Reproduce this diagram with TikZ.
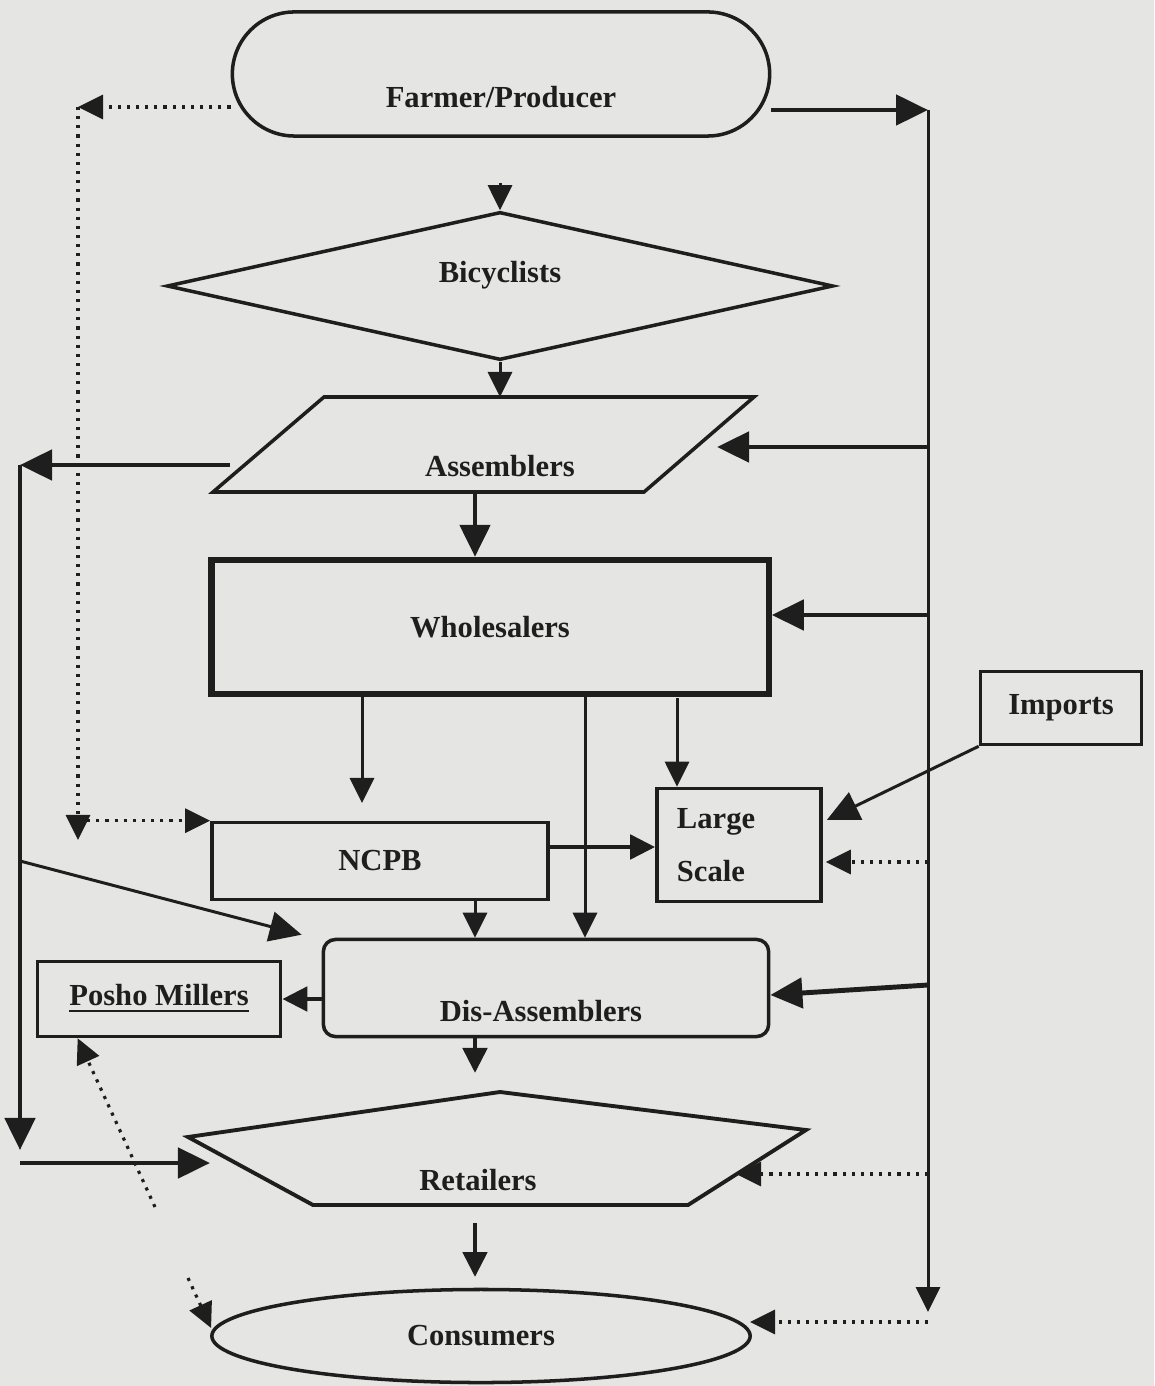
\documentclass[tikz,border=0pt]{standalone}
\usepackage{fontspec}
\setmainfont{Liberation Serif}
\usetikzlibrary{shapes.geometric,shapes.misc,arrows.meta,calc}
\definecolor{ink}{RGB}{30,30,30}
\definecolor{paper}{RGB}{229,229,227}
\newcommand\lblfont{\fontsize{8.7}{15.2}\selectfont\bfseries}

\begin{document}
\begin{tikzpicture}[x=0.01cm,y=-0.01cm,line join=miter,
  ln/.style={draw=ink,line width=0.85pt},
  thk/.style={draw=ink,line width=1.4pt},
  dots/.style={draw=ink,line width=0.9pt,dash pattern=on 0.9pt off 1.7pt},
  tip/.style={-{Triangle[length=0.25cm,width=0.24cm]}},
  bigtip/.style={-{Triangle[length=0.32cm,width=0.3cm]}},
  box/.style={draw=ink,line width=1pt,rectangle,inner sep=0pt,font=\lblfont,text=ink},
  lbl/.style={inner sep=0pt,font=\lblfont,text=ink}]
% page
  \fill[paper] (0,0) rectangle (1154,1386);

  \node[box,rounded rectangle,minimum width=5.37cm,minimum height=1.24cm] (farmer) at (501,74) {};
  \node[lbl] (farmertxt) at (501,97) {Farmer/Producer};
  \node[box,diamond,minimum width=6.66cm,minimum height=1.48cm] (bicyc) at (500,286) {};
  \node[lbl] (bicyctxt) at (500,275) {Bicyclists};
  \coordinate (as1) at (324,397);
  \coordinate (as2) at (754,397);
  \coordinate (as3) at (644,492);
  \coordinate (as4) at (213,492);
  \draw[ln,line width=1pt] (as1) -- (as2) -- (as3) -- (as4) -- cycle;
  \node[lbl] (asm) at (500,466) {Assemblers};
  \node[box,line width=1.8pt,minimum width=5.57cm,minimum height=1.34cm] (whole) at (490,627) {Wholesalers};
  \node[box,minimum width=3.36cm,minimum height=0.77cm] (ncpb) at (380,861) {NCPB};
  \node[box,minimum width=1.64cm,minimum height=1.13cm,text width=1.24cm,align=left] (large) at (739,845) {Large\\Scale};
  \node[box,minimum width=1.61cm,minimum height=0.73cm] (imports) at (1061,708) {Imports};
  \node[box,rounded corners=0.12cm,minimum width=4.45cm,minimum height=0.97cm] (dis) at (546,988) {};
  \node[lbl] (distxt) at (541,1011) {Dis-Assemblers};
  \node[box,minimum width=2.43cm,minimum height=0.75cm] (posho) at (159,999) {\underline{Posho Millers}};
  \coordinate (rt1) at (188,1137);
  \coordinate (rt2) at (500,1092);
  \coordinate (rt3) at (806,1130);
  \coordinate (rt4) at (688,1205);
  \coordinate (rt5) at (313,1205);
  \draw[ln,line width=1.1pt] (rt1) -- (rt2) -- (rt3) -- (rt4) -- (rt5) -- cycle;
  \node[lbl] (retail) at (478,1180) {Retailers};
  \node[box,ellipse,minimum width=5.38cm,minimum height=0.93cm] (cons) at (481,1336) {Consumers};

% main column
  \coordinate (fb) at (500,183);
  \coordinate (axis) at (475,0);
  \draw[ln,tip] (fb) -- (bicyc.north);
  \draw[ln,tip] (bicyc.south) -- (bicyc.south |- as1);
  \draw[thk,bigtip] (axis |- as4) -- (axis |- whole.north);
  \draw[ln,tip] (axis |- ncpb.south) -- (axis |- dis.north);
  \coordinate (dr) at (475,1073);
  \draw[thk,tip] (axis |- dis.south) -- (dr);
  \coordinate (rc1) at (475,1223);
  \coordinate (rc2) at (475,1277);
  \draw[thk,tip] (rc1) -- (rc2);
  \coordinate (w1) at (362,803);
  \coordinate (w2) at (585,0);
  \coordinate (w3) at (677,698);
  \draw[ln,tip] (whole.south -| w1) -- (w1);
  \draw[ln,tip] (whole.south -| w2) -- (dis.north -| w2);
  \draw[ln,tip] (w3) -- (large.north -| w3);
  \coordinate (n1) at ($(ncpb.east)+(0,-14)$);
  \draw[thk,tip] (n1) -- (large.west |- n1);
  \draw[thk,tip] (dis.west |- posho.east) -- (posho.east);

% right-hand line
  \coordinate (rtop) at (928,110);
  \coordinate (rbot) at (928,1312);
  \draw[thk,bigtip] (farmer.east |- rtop) -- (rtop);
  \draw[ln,tip] (rtop) -- (rbot);
  \coordinate (asr) at (717,447);
  \draw[thk,bigtip] (rtop |- asr) -- (asr);
  \coordinate (wr) at ($(whole.east)+(0,-12)$);
  \draw[thk,bigtip] (rtop |- wr) -- (wr);
  \coordinate (lr) at ($(large.east)+(3,17)$);
  \draw[dots,tip] (rtop |- lr) -- (lr);
  \coordinate (dsr) at ($(dis.east)+(0,7)$);
  \draw[thk,bigtip] ($(rtop |- dis.east)+(0,-3)$) -- (dsr);
  \coordinate (rr) at (736,1174);
  \draw[dots,tip] (rtop |- rr) -- (rr);
  \coordinate (cr) at (750,1322);
  \draw[dots,tip] (rtop |- cr) -- (cr);
  \draw[ln,bigtip] (imports.south west) -- ($(large.east)+(4,-25)$);

% left-hand lines
  \coordinate (asl) at (230,465);
  \coordinate (ltop) at (20,465);
  \coordinate (lbot) at (20,1150);
  \coordinate (rl) at (210,1163);
  \draw[thk,bigtip] (asl) -- (ltop);
  \draw[thk,bigtip] (ltop) -- (lbot);
  \draw[thk,bigtip] (ltop |- rl) -- (rl);
  \draw[ln,bigtip] (ltop |- ncpb.west) -- ($(dis.north west)+(-20,-3)$);
  \coordinate (dtop) at (78,107);
  \coordinate (dbot) at (78,840);
  \draw[dots,tip] (farmer.west |- dtop) -- (dtop);
  \draw[dots,tip] (dtop) -- (dbot);
  \draw[dots,tip] (dtop |- ncpb.north west) -- (ncpb.north west);
  \coordinate (pd) at (155,1207);
  \draw[dots,tip] (pd) -- ($(posho.south west)+(42,0)$);
  \coordinate (cd) at (188,1278);
  \draw[dots,tip] (cd) -- ($(cons.west)+(1,-8)$);
\end{tikzpicture}
\end{document}
